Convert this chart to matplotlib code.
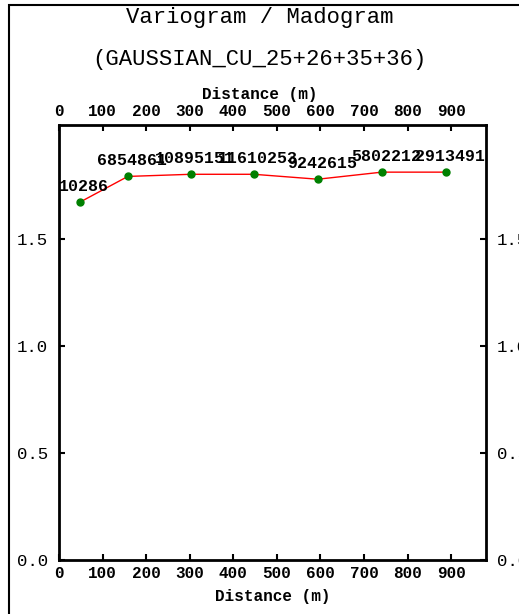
import matplotlib
matplotlib.use("Agg")
import matplotlib.pyplot as plt
from matplotlib.patches import Rectangle

# lag distances (m), variogram values and number of pairs
distance = [48, 158, 303, 447, 594, 741, 888]
gamma = [1.67, 1.79, 1.80, 1.80, 1.777, 1.81, 1.81]
pairs = ["10286", "6854861", "10895151", "11610253", "9242615", "5802212", "2913491"]

xticks = [0, 100, 200, 300, 400, 500, 600, 700, 800, 900]
yticks = [0.0, 0.5, 1.0, 1.5]

mono = "Liberation Mono"

fig = plt.figure(figsize=(5.19, 6.14), dpi=100)
fig.patches.append(Rectangle((9 / 519, -0.1), 1.2, 1 - 5 / 614 + 0.1,
                             transform=fig.transFigure, fill=False,
                             edgecolor="black", linewidth=1.5))

ax = fig.add_axes([59 / 519, 1 - 560 / 614, (486 - 59) / 519, (560 - 125) / 614])
ax.plot(distance, gamma, color="red", linewidth=1, zorder=2)
ax.plot(distance, gamma, "o", color="green", markersize=5, zorder=3)
for x, y, s in zip(distance, gamma, pairs):
    ax.annotate(s, (x, y), xytext=(3, 6), textcoords="offset points",
                ha="center", va="bottom", fontsize=12, fontweight="bold",
                family=mono)

ax.set_xlim(0, 980)
ax.set_ylim(0, 2.03)
ax.set_xticks(xticks)
ax.set_yticks(yticks)
ax.set_yticklabels(["%.1f" % v for v in yticks])
ax.tick_params(axis="both", direction="in", length=4, width=1.5,
               top=True, bottom=True, left=True, right=True,
               labeltop=True, labelbottom=True, labelleft=True, labelright=True)
ax.tick_params(axis="x", labelsize=11.5, pad=4)
ax.tick_params(axis="y", labelsize=12.5, pad=8)
for lab in ax.get_xticklabels():
    lab.set_family(mono)
    lab.set_fontweight("bold")
for lab in ax.get_yticklabels():
    lab.set_family(mono)
for sp in ax.spines.values():
    sp.set_linewidth(2)

ax.set_xlabel("Distance (m)", family=mono, fontweight="bold", fontsize=11.5, labelpad=6)
fig.text(0.5, 1 - 94 / 614, "Distance (m)", family=mono, fontweight="bold",
         fontsize=11.5, ha="center", va="center")
fig.text(0.5, 1 - 17 / 614, "Variogram / Madogram", family=mono, fontsize=16,
         ha="center", va="center")
fig.text(0.5, 1 - 60 / 614, "(GAUSSIAN_CU_25+26+35+36)", family=mono, fontsize=16,
         ha="center", va="center")

fig.savefig("out.png", dpi=100)
